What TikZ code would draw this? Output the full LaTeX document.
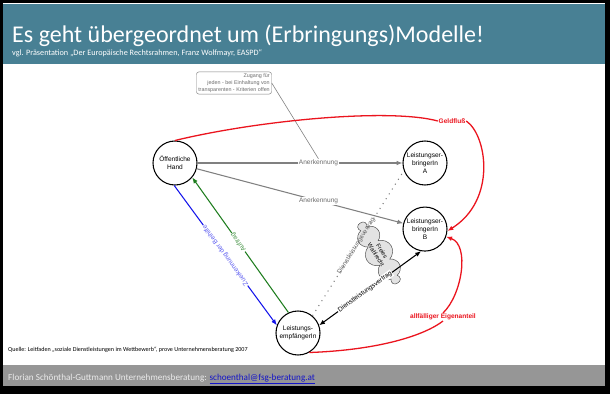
\documentclass[tikz,border=0pt]{standalone}
\usepackage{fontspec}
\setmainfont{Carlito}
\newfontfamily\arialfont{Liberation Sans}
\usetikzlibrary{positioning,shapes.symbols,arrows.meta}
\definecolor{kopf}{RGB}{72,128,148}
\definecolor{fuss}{RGB}{150,150,150}
\definecolor{geldrot}{RGB}{235,20,30}
\definecolor{blau}{RGB}{20,20,235}
\definecolor{gruen}{RGB}{30,125,30}
\definecolor{linkblau}{RGB}{20,20,200}

\begin{document}
\begin{tikzpicture}[x=0.03cm, y=-0.03cm,
    % Kreis für jeden Akteur
    actornode/.style={circle, draw=black, line width=0.9pt, fill=white, minimum size=1.32cm, inner sep=0pt, align=center, font=\arialfont\fontsize{5.6}{6.6}\selectfont},
    % Beschriftung an den Linien
    linelabel/.style={font=\arialfont\fontsize{5.6}{6.6}\selectfont, inner sep=0.6pt, fill=white},
    graylabel/.style={linelabel, text=gray!85!black},
    redlabel/.style={linelabel, font=\arialfont\bfseries\fontsize{5.6}{6.6}\selectfont, text=geldrot},
    bluelabel/.style={linelabel, text=blau!70!white},
    greenlabel/.style={linelabel, text=gruen!80!white},
    % Kasten mit abgerundeten Ecken
    zugangbox/.style={rectangle, rounded corners=2pt, draw=gray, fill=white, align=right, text=gray!85!black, inner sep=1.5pt, font=\arialfont\fontsize{4.6}{5.8}\selectfont},
    wolke/.style={cloud, cloud puffs=10, cloud ignores aspect, draw=black!70, fill=gray!22, minimum width=2.1cm, minimum height=0.85cm, rotate=-58, align=center, inner sep=0pt, font=\arialfont\fontsize{5}{6}\selectfont},
    % Linien
    grayline/.style={draw=gray, line width=0.9pt, -{Latex[length=5pt,width=4pt]}},
    dotline/.style={draw=gray, line width=0.9pt, dash pattern=on 0.9pt off 4pt},
    redline/.style={draw=geldrot, line width=1.1pt},
    blueline/.style={draw=blau, line width=0.9pt, -{Latex[length=5pt,width=4pt]}},
    greenline/.style={draw=gruen, line width=0.9pt, -{Latex[length=5pt,width=4pt]}},
    blackline/.style={draw=black, line width=0.9pt, {Latex[length=5pt,width=4pt]}-{Latex[length=5pt,width=4pt]}},
    titletext/.style={anchor=base west, text=white, inner sep=0pt}
  ]
  % Rahmen, Kopf- und Fusszeile
  \fill[black] (0,0) rectangle (610,394);
  \fill[white] (3,3) rectangle (605,386);
  \fill[kopf] (3,4) rectangle (605,64);
  \fill[fuss] (3,365) rectangle (605,386);
  \node[titletext, font=\fontsize{20.5}{22}\selectfont] (titel) at (12,43) {Es geht übergeordnet um (Erbringungs)Modelle!};
  \node[titletext, font=\fontsize{7}{8}\selectfont] (untertitel) at (12,56) {vgl. Präsentation „Der Europäische Rechtsrahmen, Franz Wolfmayr, EASPD“};
  \node[anchor=base west, inner sep=0pt, font=\fontsize{5.2}{6}\selectfont] (quelle) at (8,351) {Quelle: Leitfaden „soziale Dienstleistungen im Wettbewerb“, prove Unternehmensberatung 2007};
  \node[anchor=base west, inner sep=0pt, text=white!92!black, font=\fontsize{7.8}{9}\selectfont] (fusszeile) at (8,380) {Florian Schönthal-Guttmann Unternehmensberatung: \textcolor{linkblau}{\underline{schoenthal@fsg-beratung.at}}};

  %Nodes
  \node[wolke]       (wahl)    at (379,253)                 {Freies\\Wahlrecht};
  \node[actornode]   (oh)      at (175,163)                 {Öffentliche\\Hand};
  \node[actornode]   (lea)     at (425,163)                 {Leistungser-\\bringerIn\\A};
  \node[actornode]   (leb)     [below=0.63cm of lea]        {Leistungser-\\bringerIn\\B};
  \node[actornode]   (emp)     at (298,333)                 {Leistungs-\\empfängerIn};
  \node[zugangbox]   (zugang)  at (234,83)                  {Zugang für\\jeden - bei Einhaltung von\\transparenten - Kriterien offen};
  \node[redlabel]    (geld)    at (452,121)                 {Geldfluß};
  \node[redlabel]    (eigen)   at (443,317)                 {allfälliger Eigenanteil};

  %Lines
  \draw[grayline]  (oh)  -- node[graylabel, pos=0.59] (anerk1) {Anerkennung} (lea);
  \draw[grayline]  (oh)  -- node[graylabel, pos=0.59] (anerk2) {Anerkennung} (leb);
  \draw[gray, line width=0.5pt] (zugang.east) -- (anerk1.north);
  \draw[dotline]   (emp.50) -- node[graylabel, sloped, fill=none, pos=0.48] (dlv2) {Dienstleistungsvertrag} (lea.-160);
  \draw[blackline] (emp.20) -- node[linelabel, sloped, pos=0.45] (dlv1) {Dienstleistungsvertrag} (leb.-100);
  \draw[blueline]  (oh.-92) -- node[bluelabel, rotate=126] (bedarf) {Zuerkennung der Beihilfe} (emp.160);
  \draw[greenline] (emp.115) -- node[greenlabel, rotate=126, pos=0.52] (auftrag) {Auftrag} (oh.-40);
  % Geldfluss zu den Leistungserbringern
  \draw[redline]   (oh.north) .. controls (260,120) and (390,108) .. (geld.west);
  \draw[redline, -{Latex[length=5pt,width=4pt]}] (geld.east) .. controls (487,135) and (497,200) .. (leb.-5);
  \draw[redline]   (emp.-60) .. controls (380,350) and (425,335) .. (eigen.south);
  \draw[redline, -{Latex[length=5pt,width=4pt]}] (eigen.north) .. controls (462,295) and (470,245) .. (leb.-20);
\end{tikzpicture}
\end{document}
